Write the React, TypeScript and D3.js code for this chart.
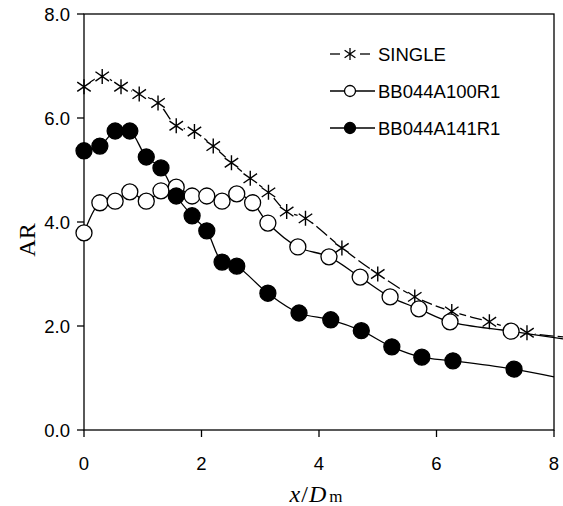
import React from 'react';
import * as d3 from 'd3';

// ---------- data ----------
const singleX = [0, 0.31, 0.63, 0.94, 1.26, 1.57, 1.88, 2.2, 2.51, 2.83, 3.14, 3.45, 3.77, 4.39, 5.0, 5.63, 6.26, 6.9, 7.54];
const singleY = [6.6, 6.8, 6.6, 6.46, 6.29, 5.85, 5.74, 5.46, 5.14, 4.84, 4.57, 4.2, 4.07, 3.5, 3.0, 2.56, 2.28, 2.08, 1.87];
const singleTail = [8.16, 1.79];

const openX = [0, 0.27, 0.53, 0.78, 1.06, 1.31, 1.57, 1.84, 2.09, 2.35, 2.6, 2.87, 3.13, 3.64, 4.17, 4.7, 5.21, 5.7, 6.23, 7.27];
const openY = [3.79, 4.37, 4.4, 4.58, 4.4, 4.6, 4.67, 4.5, 4.5, 4.4, 4.54, 4.37, 3.98, 3.52, 3.33, 2.94, 2.56, 2.33, 2.08, 1.9];
const openTail = [8.16, 1.75];

const filledX = [0, 0.27, 0.53, 0.78, 1.06, 1.31, 1.57, 1.84, 2.09, 2.35, 2.6, 3.13, 3.66, 4.2, 4.72, 5.24, 5.75, 6.28, 7.32];
const filledY = [5.37, 5.46, 5.75, 5.75, 5.25, 5.04, 4.5, 4.12, 3.83, 3.23, 3.15, 2.63, 2.25, 2.12, 1.91, 1.6, 1.4, 1.33, 1.17];
const filledTail = [8.0, 1.02];

const xTicks = [0, 2, 4, 6, 8];
const yTicks = [0, 2, 4, 6, 8];
const seriesNames = ['SINGLE', 'BB044A100R1', 'BB044A141R1'];

// ---------- layout ----------
const W = 563;
const H = 506;
const L = 84, R = 554, T = 14, B = 430;
const FONT = '"Liberation Sans", Arial, sans-serif';
const SERIF = '"Liberation Serif", "Times New Roman", serif';

const xs = d3.scaleLinear().domain([0, 8]).range([L, R]);
const ys = d3.scaleLinear().domain([0, 8]).range([B, T]);

type P = [number, number];
const zip = (a: number[], b: number[]): P[] => a.map((v, i) => [v, b[i]] as P);

const line = d3
  .line<P>()
  .x((d) => xs(d[0]))
  .y((d) => ys(d[1]))
  .curve(d3.curveCatmullRom.alpha(0.5));

const starPath = (s: number) => {
  const v = s;
  const dx = s * 0.9;
  const dy = s * 0.62;
  return `M0,${-v}L0,${v}M${-dx},${-dy}L${dx},${dy}M${-dx},${dy}L${dx},${-dy}`;
};

export default function App() {
  const single = zip(singleX, singleY);
  const open = zip(openX, openY);
  const filled = zip(filledX, filledY);

  const legendX = 350;
  const legendRows = [54, 91, 128];

  return (
    <svg
      width={W}
      height={H}
      viewBox={`0 0 ${W} ${H}`}
      style={{ position: 'absolute', left: 0, top: 0, background: '#fff' }}
    >
      <defs>
        <mask id="singleMask" maskUnits="userSpaceOnUse" x={0} y={0} width={W} height={H}>
          <rect x={0} y={0} width={W} height={H} fill="#fff" />
          {single.map((d, i) => (
            <circle key={i} cx={xs(d[0])} cy={ys(d[1])} r={8} fill="#000" />
          ))}
        </mask>
      </defs>

      {/* frame */}
      <rect x={L} y={T} width={R - L} height={B - T} fill="none" stroke="#000" strokeWidth={1.3} />

      {/* y ticks */}
      {yTicks.map((t) => (
        <g key={'y' + t}>
          <line x1={L - 7} x2={L} y1={ys(t)} y2={ys(t)} stroke="#000" strokeWidth={1.3} />
          <text
            x={L - 14}
            y={ys(t)}
            dy="0.36em"
            textAnchor="end"
            fontFamily={FONT}
            fontSize={18.5}
            fill="#000"
          >
            {t.toFixed(1)}
          </text>
        </g>
      ))}

      {/* x ticks */}
      {xTicks.map((t) => (
        <g key={'x' + t}>
          <line x1={xs(t)} x2={xs(t)} y1={B} y2={B + 7} stroke="#000" strokeWidth={1.3} />
          <text x={xs(t)} y={470} textAnchor="middle" fontFamily={FONT} fontSize={18.5} fill="#000">
            {t}
          </text>
        </g>
      ))}

      {/* axis titles */}
      <text
        transform={`translate(35,240) rotate(-90)`}
        textAnchor="middle"
        fontFamily={SERIF}
        fontSize={24}
        fill="#000"
      >
        AR
      </text>
      <text x={316} y={502} textAnchor="middle" fontFamily={SERIF} fontSize={24} fill="#000">
        <tspan fontStyle="italic">x</tspan>
        <tspan dx={1}>/</tspan>
        <tspan fontStyle="italic" dx={1}>D</tspan>
        <tspan fontSize={17} dx={3}>m</tspan>
      </text>

      {/* lines */}
      <path
        d={line([...single, singleTail as P]) || ''}
        fill="none"
        stroke="#000"
        strokeWidth={1.3}
        strokeDasharray="14,4"
        mask="url(#singleMask)"
      />
      <path d={line([...open, openTail as P]) || ''} fill="none" stroke="#000" strokeWidth={1.3} />
      <path d={line([...filled, filledTail as P]) || ''} fill="none" stroke="#000" strokeWidth={1.3} />

      {/* markers */}
      {single.map((d, i) => (
        <path
          key={'s' + i}
          d={starPath(7.5)}
          transform={`translate(${xs(d[0])},${ys(d[1])})`}
          stroke="#000"
          strokeWidth={1.4}
          fill="none"
        />
      ))}
      {open.map((d, i) => (
        <circle key={'o' + i} cx={xs(d[0])} cy={ys(d[1])} r={8} fill="#fff" stroke="#000" strokeWidth={1.3} />
      ))}
      {filled.map((d, i) => (
        <circle key={'f' + i} cx={xs(d[0])} cy={ys(d[1])} r={8} fill="#000" stroke="#000" strokeWidth={1.3} />
      ))}

      {/* legend */}
      <g>
        <line x1={legendX - 20} x2={legendX - 10} y1={legendRows[0]} y2={legendRows[0]} stroke="#000" strokeWidth={1.3} />
        <line x1={legendX + 10} x2={legendX + 20} y1={legendRows[0]} y2={legendRows[0]} stroke="#000" strokeWidth={1.3} />
        <path d={starPath(6)} transform={`translate(${legendX},${legendRows[0]})`} stroke="#000" strokeWidth={1.3} fill="none" />

        <line x1={legendX - 20} x2={legendX + 25} y1={legendRows[1]} y2={legendRows[1]} stroke="#000" strokeWidth={1.3} />
        <circle cx={legendX} cy={legendRows[1]} r={5.5} fill="#fff" stroke="#000" strokeWidth={1.3} />

        <line x1={legendX - 20} x2={legendX + 25} y1={legendRows[2]} y2={legendRows[2]} stroke="#000" strokeWidth={1.3} />
        <circle cx={legendX} cy={legendRows[2]} r={5.5} fill="#000" stroke="#000" strokeWidth={1.3} />

        {seriesNames.map((n, i) => (
          <text key={n} x={378} y={legendRows[i]} dy="0.36em" fontFamily={FONT} fontSize={18.5} fill="#000">
            {n}
          </text>
        ))}
      </g>
    </svg>
  );
}
